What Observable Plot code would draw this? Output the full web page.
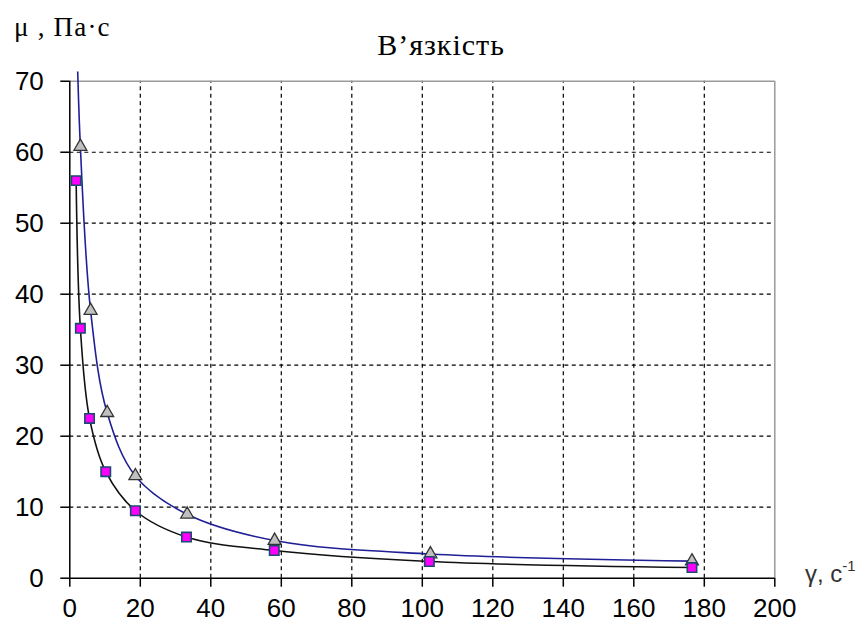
<!DOCTYPE html>
<html>
<head>
<meta charset="utf-8">
<script src="https://cdn.jsdelivr.net/npm/d3@7"></script>
<script src="https://cdn.jsdelivr.net/npm/@observablehq/plot@0.6"></script>
<style>
  html, body { margin: 0; padding: 0; background: #fff; }
  #wrap { position: relative; width: 866px; height: 630px; overflow: hidden; }
  #chart { position: absolute; left: 0; top: 0; }
  .lbl { position: absolute; white-space: nowrap; color: #000; }
  #title { left: 0; width: 882px; text-align: center; top: 28px; font: 30px "Liberation Serif", serif; letter-spacing: 1px; }
  #ylab { left: 14px; top: 12px; font: 27px "Liberation Serif", serif; letter-spacing: 1.2px; }
  #xlab { left: 805px; top: 557px; font: 24px "Liberation Sans", sans-serif; color: #333; }
  #xlab sup { font-size: 15px; vertical-align: 11px; }
</style>
</head>
<body>
<div id="wrap">
  <div id="chart"></div>
  <div class="lbl" id="title">В’язкість</div>
  <div class="lbl" id="ylab">μ , Па·с</div>
  <div class="lbl" id="xlab">γ, с<sup>-1</sup></div>
</div>
<script>
// Series 1 (magenta squares, black curve)
const shearSquares = [1.8, 3.0, 5.6, 10.2, 18.6, 33.1, 58.0, 102.0, 176.5];
const viscSquares  = [56.0, 35.2, 22.5, 15.0, 9.5, 5.8, 3.9, 2.35, 1.5];
// Series 2 (grey triangles, blue curve); first point lies above the axis max
const shearTriangles = [1.8, 3.0, 5.9, 10.6, 18.6, 33.3, 58.1, 102.3, 176.5];
const viscTriangles  = [80.0, 60.8, 37.7, 23.3, 14.4, 9.0, 5.3, 3.4, 2.4];

const xTicks = [0, 20, 40, 60, 80, 100, 120, 140, 160, 180, 200];
const yTicks = [0, 10, 20, 30, 40, 50, 60, 70];
const xMin = 0, xMax = 200, yMin = 0, yMax = 70;

const squares = shearSquares.map((x, i) => ({x, y: viscSquares[i]}));
const triangles = shearTriangles.map((x, i) => ({x, y: viscTriangles[i]}));

const chart = Plot.plot({
  width: 866,
  height: 630,
  marginLeft: 69.3,
  marginRight: 91.7,
  marginTop: 71.5,
  marginBottom: 52.3,
  style: {fontFamily: "Liberation Sans, Arial, sans-serif", fontSize: "26px", color: "#000", background: "#fff"},
  x: {domain: [xMin, xMax]},
  y: {domain: [yMin, 71.3]},
  marks: [
    Plot.ruleY(yTicks.filter(d => d > yMin && d < yMax), {stroke: "#000", strokeWidth: 1.2, strokeDasharray: "4,3.5"}),
    Plot.ruleX(xTicks.filter(d => d > xMin && d < xMax), {y1: yMin, y2: yMax, stroke: "#000", strokeWidth: 1.2, strokeDasharray: "4,3.5"}),
    Plot.ruleY([yMax], {stroke: "#9a9a9a", strokeWidth: 1.5}),
    Plot.ruleX([xMax], {y1: yMin, y2: yMax, stroke: "#9a9a9a", strokeWidth: 1.5}),
    Plot.ruleY([yMin], {stroke: "#000", strokeWidth: 1.5}),
    Plot.ruleX([xMin], {y1: yMin, y2: yMax, stroke: "#000", strokeWidth: 1.5}),
    Plot.axisX({ticks: xTicks, tickSize: 9, tickPadding: 11, tickFormat: d => String(d), label: null, fontSize: 26, strokeWidth: 1.5}),
    Plot.axisY({ticks: yTicks, tickSize: 9, tickPadding: 17, tickFormat: d => String(d), label: null, fontSize: 26, strokeWidth: 1.5}),
    Plot.line(triangles, {x: "x", y: "y", curve: "catmull-rom", stroke: "#1f1f96", strokeWidth: 1.6, clip: "frame"}),
    Plot.line(squares, {x: "x", y: "y", curve: "catmull-rom", stroke: "#111", strokeWidth: 1.6, clip: "frame"}),
    Plot.dot(triangles.filter(d => d.y <= yMax), {x: "x", y: "y", symbol: "triangle", r: 4.8, fill: "#c0c0c0", stroke: "#333", strokeWidth: 1.3}),
    Plot.dot(squares.filter(d => d.y <= yMax), {x: "x", y: "y", symbol: "square", r: 5.3, fill: "#ff00ff", stroke: "#1a4a6e", strokeWidth: 1.6})
  ]
});
document.getElementById("chart").appendChild(chart);
</script>
</body>
</html>
